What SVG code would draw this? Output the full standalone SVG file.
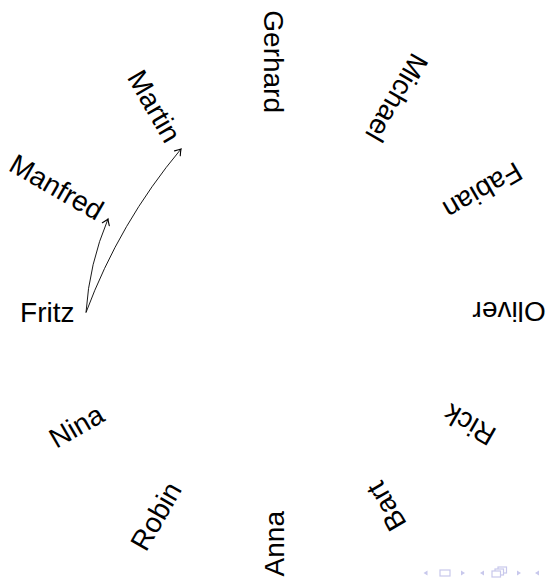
<svg xmlns="http://www.w3.org/2000/svg" width="551" height="581" viewBox="0 0 551 581">
<style>
.n{font-family:"Liberation Sans",Arial,sans-serif;font-size:28px;fill:#000;text-anchor:end}
.e{fill:none;stroke:#000;stroke-width:0.9}
.nav{fill:#c8c8ec;stroke:none}
.navs{fill:#fff;stroke:#c8c8ec;stroke-width:1.2}
</style>
<defs>
<marker id="to" markerUnits="userSpaceOnUse" markerWidth="10" markerHeight="10" viewBox="-6 -4 8 8" refX="0" refY="0" orient="auto">
<path d="M-4.5,-3 Q-1.2,-0.6 0,0 Q-1.2,0.6 -4.5,3" fill="none" stroke="#000" stroke-width="0.9" stroke-linecap="round"/>
</marker>
</defs>
<rect width="551" height="581" fill="#fff"/>
<g id="Fritz"><text class="n" x="74.5" y="322" transform="rotate(0 74.5 312)">Fritz</text></g>
<g id="Manfred"><text class="n" x="101.2" y="222.5" transform="rotate(30 101.2 212.5)">Manfred</text></g>
<g id="Martin"><text class="n" x="174" y="149.7" transform="rotate(60 174 139.7)">Martin</text></g>
<g id="Gerhard"><text class="n" x="273.5" y="123" transform="rotate(90 273.5 113)">Gerhard</text></g>
<g id="Michael"><text class="n" x="373" y="149.7" transform="rotate(120 373 139.7)">Michael</text></g>
<g id="Fabian"><text class="n" x="445.8" y="222.5" transform="rotate(150 445.8 212.5)">Fabian</text></g>
<g id="Oliver"><text class="n" x="472.5" y="322" transform="rotate(180 472.5 312)">Oliver</text></g>
<g id="Rick"><text class="n" x="445.8" y="421.5" transform="rotate(210 445.8 411.5)">Rick</text></g>
<g id="Bart"><text class="n" x="373" y="494.3" transform="rotate(240 373 484.3)">Bart</text></g>
<g id="Anna"><text class="n" x="273.5" y="521" transform="rotate(270 273.5 511)">Anna</text></g>
<g id="Robin"><text class="n" x="174" y="494.3" transform="rotate(300 174 484.3)">Robin</text></g>
<g id="Nina"><text class="n" x="101.2" y="421.5" transform="rotate(330 101.2 411.5)">Nina</text></g>
<g id="connectors">
<path class="e" d="M86,312.5 Q89.2,263.7 108,219" marker-end="url(#to)"/>
<path class="e" d="M86,312.5 Q119.5,222.5 181,149" marker-end="url(#to)"/>
</g>
<g id="navigation">
<polygon class="nav" points="423.5,573 427.5,570.5 427.5,575.5"/>
<rect class="navs" x="440" y="570" width="10" height="6"/>
<polygon class="nav" points="461,570.5 465,573 461,575.5"/>
<polygon class="nav" points="480,573 484,570.5 484,575.5"/>
<rect class="navs" x="498" y="567" width="8.5" height="6"/>
<rect class="navs" x="495" y="569" width="8.5" height="6"/>
<rect class="navs" x="492" y="571" width="8.5" height="6"/>
<polygon class="nav" points="517,570.5 521,573 517,575.5"/>
<polygon class="nav" points="535,573 539,570.5 539,575.5"/>
</g>
</svg>
